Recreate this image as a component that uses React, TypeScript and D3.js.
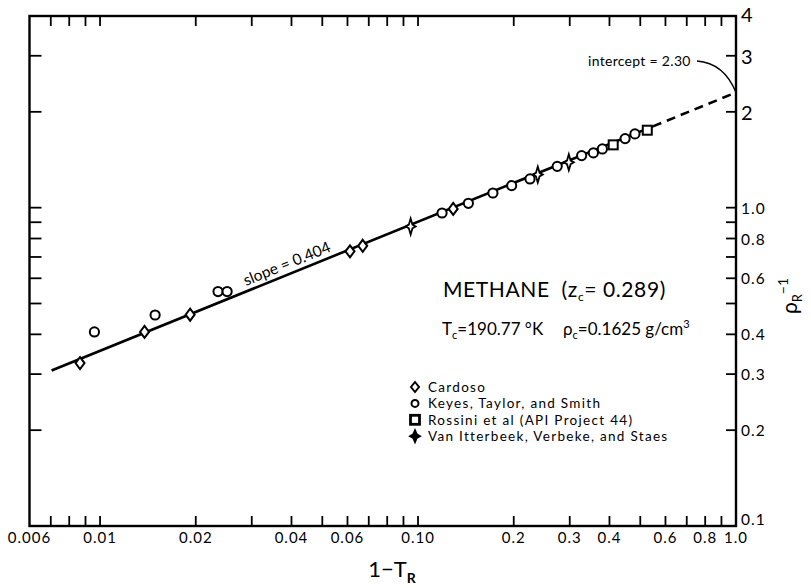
import React from 'react';
import * as d3 from 'd3';

const W = 811;
const H = 588;

// Data (x = 1 - T_R, y = rho_R^-1)
const cardosoX = [0.00865, 0.0138, 0.0192, 0.0611, 0.067, 0.129];
const cardosoY = [0.325, 0.407, 0.461, 0.729, 0.759, 0.991];

const keyesX = [0.0096, 0.0149, 0.0235, 0.0251, 0.119, 0.144, 0.172, 0.197, 0.225, 0.274, 0.327, 0.356, 0.38, 0.448, 0.481];
const keyesY = [0.407, 0.46, 0.545, 0.545, 0.962, 1.032, 1.112, 1.173, 1.231, 1.348, 1.457, 1.486, 1.529, 1.648, 1.705];

const rossiniX = [0.411, 0.526];
const rossiniY = [1.575, 1.751];

const vanX = [0.0948, 0.238, 0.298];
const vanY = [0.873, 1.27, 1.388];

const solidLineX = [0.00704, 0.548];
const solidLineY = [0.308, 1.8];
const dashLineX = [0.548, 1.0];
const dashLineY = [1.8, 2.3];

const xMinorTicks = [0.007, 0.008, 0.009, 0.01, 0.02, 0.03, 0.04, 0.05, 0.06, 0.07, 0.08, 0.09, 0.1, 0.2, 0.3, 0.4, 0.5, 0.6, 0.7, 0.8, 0.9];
const xLabelValues = [0.006, 0.01, 0.02, 0.04, 0.06, 0.1, 0.2, 0.3, 0.4, 0.6, 0.8, 1.0];
const xLabelTexts = ['0.006', '0.01', '0.02', '0.04', '0.06', '0.10', '0.2', '0.3', '0.4', '0.6', '0.8', '1.0'];

const yTicks = [0.2, 0.3, 0.4, 0.5, 0.6, 0.7, 0.8, 0.9, 1, 2, 3];
const yLabelValues = [4, 3, 2, 1, 0.8, 0.6, 0.4, 0.3, 0.2, 0.1];
const yLabelTexts = ['4', '3', '2', '1.0', '0.8', '0.6', '0.4', '0.3', '0.2', '0.1'];

const legendLabels = [
  'Cardoso',
  'Keyes, Taylor, and Smith',
  'Rossini et al (API Project 44)',
  'Van Itterbeek, Verbeke, and Staes',
];
const legendKinds = ['diamond', 'circle', 'square', 'star'];

const FONT = 'Lato, "DejaVu Sans", sans-serif';

const x = d3.scaleLog().domain([0.006, 1]).range([29.5, 736]);
const y = d3.scaleLog().domain([0.1, 4]).range([526, 16]);

function Marker({ kind, cx, cy, legend = false }: { kind: string; cx: number; cy: number; legend?: boolean }) {
  const sw = 2;
  if (kind === 'circle') {
    const r = legend ? 3.5 : 4.6;
    return <circle cx={cx} cy={cy} r={r} fill="white" stroke="black" strokeWidth={sw} />;
  }
  if (kind === 'diamond') {
    const a = legend ? 4 : 4.5;
    const b = legend ? 5 : 6;
    const d = `M${cx},${cy - b}L${cx + a},${cy}L${cx},${cy + b}L${cx - a},${cy}Z`;
    return <path d={d} fill="white" stroke="black" strokeWidth={sw} />;
  }
  if (kind === 'square') {
    const s = 4.5;
    return (
      <rect x={cx - s} y={cy - s} width={2 * s} height={2 * s} fill="white" stroke="black" strokeWidth={legend ? 2.8 : sw} />
    );
  }
  // four-pointed star
  const rv = legend ? 6 : 8;
  const rh = 5;
  const k = 1.8;
  const d = `M${cx},${cy - rv}L${cx + k},${cy - k}L${cx + rh},${cy}L${cx + k},${cy + k}L${cx},${cy + rv}L${cx - k},${cy + k}L${cx - rh},${cy}L${cx - k},${cy - k}Z`;
  return <path d={d} fill={legend ? 'black' : 'white'} stroke="black" strokeWidth={1.8} />;
}

export default function App() {
  const line = d3
    .line<[number, number]>()
    .x((d) => x(d[0]))
    .y((d) => y(d[1]));
  const solid = line(solidLineX.map((v, i) => [v, solidLineY[i]] as [number, number])) || '';
  const dashed = line(dashLineX.map((v, i) => [v, dashLineY[i]] as [number, number])) || '';

  const [x0, x1] = x.range();
  const [yb, yt] = y.range();

  const ang = (Math.atan2(y(solidLineY[1]) - y(solidLineY[0]), x(solidLineX[1]) - x(solidLineX[0])) * 180) / Math.PI;

  const series = [
    { kind: 'diamond', xs: cardosoX, ys: cardosoY },
    { kind: 'circle', xs: keyesX, ys: keyesY },
    { kind: 'square', xs: rossiniX, ys: rossiniY },
    { kind: 'star', xs: vanX, ys: vanY },
  ];

  return (
    <svg width={W} height={H} style={{ position: 'absolute', left: 0, top: 0, background: 'white' }} fontFamily={FONT}>
      <rect x={0} y={0} width={W} height={H} fill="white" />
      {/* fitted line */}
      <path d={solid} fill="none" stroke="black" strokeWidth={2.6} />
      <path d={dashed} fill="none" stroke="black" strokeWidth={2.6} strokeDasharray="9,6" />

      {/* frame */}
      <rect x={x0} y={yt} width={x1 - x0} height={yb - yt} fill="none" stroke="black" strokeWidth={2.4} />

      {/* x ticks bottom & top */}
      {xMinorTicks.map((t, i) => (
        <g key={'xt' + i}>
          <line x1={x(t)} x2={x(t)} y1={yb} y2={yb - 10} stroke="black" strokeWidth={1.8} />
          <line x1={x(t)} x2={x(t)} y1={yt} y2={yt + 10} stroke="black" strokeWidth={1.8} />
        </g>
      ))}
      {xLabelValues.map((v, i) => (
        <text key={'xl' + i} x={x(v)} y={543} fontSize={15} letterSpacing={1} textAnchor="middle">
          {xLabelTexts[i]}
        </text>
      ))}

      {/* y ticks left & right */}
      {yTicks.map((t, i) => (
        <g key={'yt' + i}>
          <line x1={x0} x2={x0 + 12} y1={y(t)} y2={y(t)} stroke="black" strokeWidth={1.8} />
          <line x1={x1} x2={x1 - 10} y1={y(t)} y2={y(t)} stroke="black" strokeWidth={1.8} />
        </g>
      ))}
      {yLabelValues.map((v, i) => {
        const big = v >= 2;
        let yy = y(v);
        if (v === 0.1) yy -= 7;
        if (v === 4) yy -= 2;
        return (
          <text
            key={'yl' + i}
            x={741}
            y={yy}
            fontSize={big ? 20 : 15.5}
            letterSpacing={big ? 0 : 1}
            dominantBaseline="central"
            textAnchor="start"
          >
            {yLabelTexts[i]}
          </text>
        );
      })}

      {/* data points */}
      {series.map((s, si) =>
        s.xs.map((v, i) => <Marker key={si + '-' + i} kind={s.kind} cx={x(v)} cy={y(s.ys[i])} />)
      )}

      {/* slope label */}
      <text x={246} y={286} fontSize={15.5} transform={`rotate(${ang}, 246, 286)`}>
        slope = 0.404
      </text>

      {/* intercept label */}
      <text x={588} y={66} fontSize={14} letterSpacing={0.3}>
        intercept = 2.30
      </text>
      <path d={`M697,61 Q724,63 ${x1},${y(2.3)}`} fill="none" stroke="black" strokeWidth={1.3} />

      {/* title block */}
      <text x={443} y={297} fontSize={21} letterSpacing={0.6}>
        METHANE{'\u00a0\u00a0'}(z
        <tspan fontSize={12} dy={4}>c</tspan>
        <tspan dy={-4}>= 0.289)</tspan>
      </text>
      <text x={442} y={335} fontSize={17}>
        T<tspan fontSize={11} dy={4}>c</tspan>
        <tspan dy={-4}>=190.77 °K</tspan>
      </text>
      <text x={563} y={335} fontSize={17}>
        ρ<tspan fontSize={11} dy={4}>c</tspan>
        <tspan dy={-4}>=0.1625 g/cm</tspan>
        <tspan fontSize={11} dy={-7}>3</tspan>
      </text>

      {/* legend */}
      {legendLabels.map((lab, i) => {
        const cy = 387 + i * 16.4;
        return (
          <g key={'lg' + i}>
            <Marker kind={legendKinds[i]} cx={415} cy={cy} legend />
            <text x={428} y={cy + 5} fontSize={13.5} letterSpacing={1.3}>
              {lab}
            </text>
          </g>
        );
      })}

      {/* axis titles */}
      <text x={392} y={577} fontSize={22} textAnchor="middle">
        1−T<tspan fontSize={14} fontWeight="bold" dy={6}>R</tspan>
      </text>
      <text transform="translate(797,296) rotate(-90)" fontSize={21} textAnchor="middle">
        ρ<tspan fontSize={13} dy={5}>R</tspan>
        <tspan fontSize={14} dy={-14}>−1</tspan>
      </text>
    </svg>
  );
}
